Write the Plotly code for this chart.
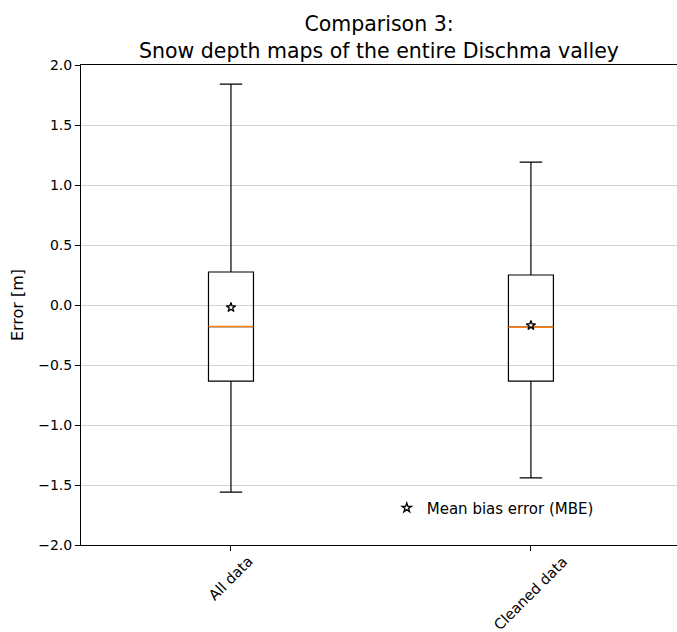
import plotly.graph_objects as go

categories = ["All data", "Cleaned data"]
positions = [1, 2]
upper_whisker = [1.84, 1.19]
q3 = [0.275, 0.25]
median = [-0.18, -0.185]
q1 = [-0.635, -0.635]
lower_whisker = [-1.56, -1.44]
mbe = [-0.02, -0.17]
yticks = [-2.0, -1.5, -1.0, -0.5, 0.0, 0.5, 1.0, 1.5, 2.0]

box_w = 0.15
font = "DejaVu Sans"

fig = go.Figure()
for i, p in enumerate(positions):
    fig.add_trace(go.Box(
        x=[p], q1=[q1[i]], median=[median[i]], q3=[q3[i]],
        lowerfence=[lower_whisker[i]], upperfence=[upper_whisker[i]],
        width=box_w, whiskerwidth=0.5, boxpoints=False,
        line=dict(color="black", width=1.2), fillcolor="rgba(255,255,255,0)",
        showlegend=False, hoverinfo="skip",
    ))
    fig.add_trace(go.Scatter(
        x=[p - box_w / 2, p + box_w / 2], y=[median[i], median[i]],
        mode="lines", line=dict(color="#ff7f0e", width=1.5),
        showlegend=False, hoverinfo="skip",
    ))

fig.add_trace(go.Scatter(
    x=positions, y=mbe, mode="markers",
    marker=dict(symbol="star-open", size=7, color="black", line=dict(width=1.3)),
    name="Mean bias error (MBE)", showlegend=True,
))

for p, c in zip(positions, categories):
    fig.add_annotation(
        x=p, y=0, xref="x", yref="paper", text=c, showarrow=False,
        textangle=-45, xanchor="center", yanchor="top", yshift=-5,
        font=dict(family=font, size=14.5, color="black"),
    )

fig.update_layout(
    width=677, height=632,
    margin=dict(l=81, r=0, t=65, b=87),
    plot_bgcolor="white", paper_bgcolor="white",
    font=dict(family=font, size=14, color="black"),
    title=dict(
        text="Comparison 3:<br>Snow depth maps of the entire Dischma valley",
        x=0.5, xref="paper", xanchor="center",
        y=1 - 31 / 632, yref="container", yanchor="top",
        font=dict(family=font, size=20.5, color="black"),
    ),
    legend=dict(
        x=0.513, y=0.077, xanchor="left", yanchor="middle",
        bgcolor="rgba(0,0,0,0)", itemwidth=30,
        font=dict(family=font, size=15, color="black"),
    ),
    xaxis=dict(
        range=[0.5, 2.487], tickvals=positions, ticktext=["", ""],
        showgrid=False, zeroline=False,
        showline=True, linecolor="black", linewidth=1, mirror=True,
        ticks="outside", ticklen=5, tickcolor="black",
    ),
    yaxis=dict(
        range=[-2.0, 2.0], tickvals=yticks, tickformat=".1f",
        showgrid=True, gridcolor="#d3d3d3", gridwidth=1, zeroline=False,
        showline=True, linecolor="black", linewidth=1, mirror=True,
        ticks="outside", ticklen=5, tickcolor="black",
        title=dict(text="Error [m]", font=dict(family=font, size=16, color="black"), standoff=10),
    ),
)

fig.write_html("out.html")
